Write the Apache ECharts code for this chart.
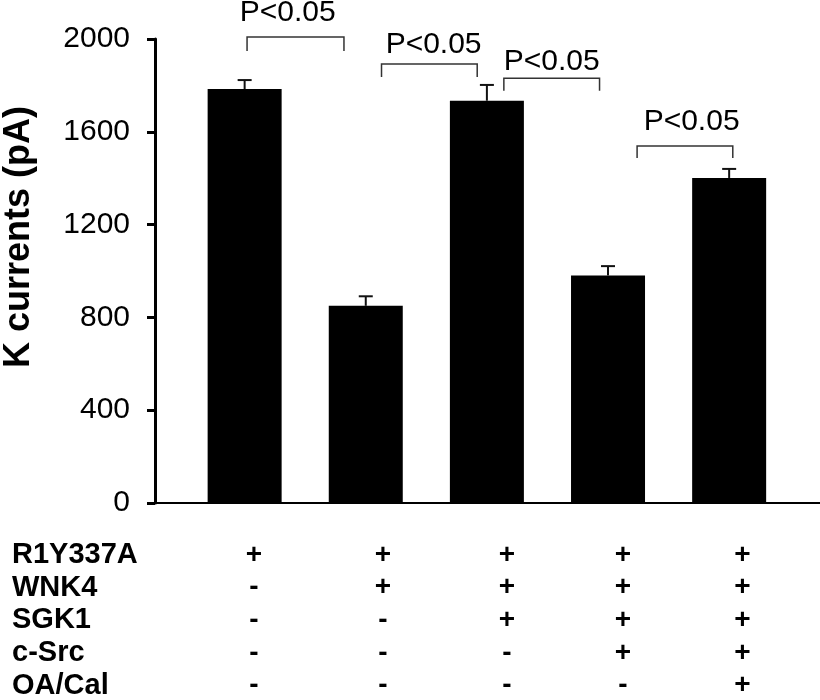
<!DOCTYPE html>
<html>
<head>
<meta charset="utf-8">
<script src="https://cdn.jsdelivr.net/npm/echarts@6/dist/echarts.min.js"></script>
<style>html,body{margin:0;padding:0;background:#fff;}#chart{width:820px;height:700px;}</style>
</head>
<body>
<div id="chart"></div>
<script>
// ---- data ----
const groups = [1, 2, 3, 4, 5];
const currents = [1784, 850, 1734, 981, 1401];
const errorTops = [1823, 891, 1802, 1021, 1440];
const yTickInterval = 400;
const yMax = 2000;
const bracketLeft = [1.02, 2.13, 3.14, 4.24];
const bracketRight = [1.82, 2.92, 3.93, 5.03];
const bracketTop = [2009, 1892, 1831, 1539];
const bracketLegBottom = [1948, 1836, 1777, 1487];
const pLabelX = [1.355, 2.56, 3.535, 4.69];
const pLabelY = [2112, 1974, 1901, 1642];
const pLabelText = ['P<0.05', 'P<0.05', 'P<0.05', 'P<0.05'];
const rowNames = ['R1Y337A', 'WNK4', 'SGK1', 'c-Src', 'OA/Cal'];
const conditions = [
  ['+', '-', '-', '-', '-'],
  ['+', '+', '-', '-', '-'],
  ['+', '+', '+', '-', '-'],
  ['+', '+', '+', '+', '-'],
  ['+', '+', '+', '+', '+']
];
const yAxisTitle = 'K currents (pA)';

// ---- layout ----
const FONT = "'Liberation Sans', Arial, sans-serif";
const colX = [1.077, 2.141, 3.166, 4.122, 5.109];
const xMin = 0.26, xMax = 5.75;

const chart = echarts.init(document.getElementById('chart'), null, {renderer: 'canvas'});

const barData = groups.map((g, i) => [g, currents[i]]);
const errData = groups.map((g, i) => [g, currents[i], errorTops[i]]);
const bracketData = bracketLeft.map((l, i) => [l, bracketRight[i], bracketTop[i], bracketLegBottom[i]]);
const pData = pLabelX.map((x, i) => [x, pLabelY[i]]);
const tableData = [], tableText = [];
groups.forEach((g, c) => {
  conditions[c].forEach((s, r) => { tableData.push([colX[c], r]); tableText.push(s); });
});

function textItem(texts, fontSize, weight) {
  return (params, api) => {
    const p = api.coord([api.value(0), api.value(1)]);
    return {type: 'text', x: p[0], y: p[1],
            style: {text: texts[params.dataIndex],
                    font: weight + ' ' + fontSize + 'px ' + FONT, fill: '#000',
                    align: 'center', verticalAlign: 'middle'}};
  };
}

chart.setOption({
  animation: false,
  backgroundColor: '#fff',
  grid: [
    {left: 155, right: 0, top: 39, bottom: 197},
    {left: 155, right: 0, top: 555, bottom: 8}
  ],
  xAxis: [
    {type: 'value', gridIndex: 0, min: xMin, max: xMax,
     axisLine: {show: true, onZero: false, lineStyle: {color: '#000', width: 2}},
     axisTick: {show: false}, axisLabel: {show: false}, splitLine: {show: false}},
    {type: 'value', gridIndex: 1, min: xMin, max: xMax, show: false}
  ],
  yAxis: [
    {type: 'value', gridIndex: 0, min: 0, max: yMax, interval: yTickInterval,
     axisLine: {show: true, lineStyle: {color: '#000', width: 3}},
     axisTick: {show: true, length: 8, lineStyle: {color: '#000', width: 3}},
     axisLabel: {fontFamily: FONT, fontSize: 30, color: '#000', margin: 25,
                 formatter: v => String(v)},
     splitLine: {show: false}},
    {type: 'value', gridIndex: 1, min: 0, max: 4, interval: 1, inverse: true,
     axisLine: {show: false}, axisTick: {show: false}, splitLine: {show: false},
     axisLabel: {fontFamily: FONT, fontSize: 29, fontWeight: 'bold', color: '#000',
                 align: 'left', margin: 143,
                 formatter: v => rowNames[v] || ''}}
  ],
  graphic: [
    {type: 'text', x: 19, y: 237, rotation: Math.PI / 2,
     style: {text: yAxisTitle, font: "bold 36px " + FONT, fill: '#000',
             align: 'center', verticalAlign: 'middle'}}
  ],
  series: [
    {type: 'bar', xAxisIndex: 0, yAxisIndex: 0, data: barData, barWidth: 74,
     itemStyle: {color: '#000'}},
    {type: 'custom', xAxisIndex: 0, yAxisIndex: 0, data: errData, clip: false,
     renderItem: (params, api) => {
       const base = api.coord([api.value(0), api.value(1)]);
       const top = api.coord([api.value(0), api.value(2)]);
       const hw = 7;
       return {type: 'group', children: [
         {type: 'line', shape: {x1: base[0], y1: base[1], x2: top[0], y2: top[1]},
          style: {stroke: '#111', lineWidth: 2}},
         {type: 'line', shape: {x1: top[0] - hw, y1: top[1], x2: top[0] + hw, y2: top[1]},
          style: {stroke: '#111', lineWidth: 2}}
       ]};
     }},
    {type: 'custom', xAxisIndex: 0, yAxisIndex: 0, data: bracketData, clip: false,
     renderItem: (params, api) => {
       const a = api.coord([api.value(0), api.value(3)]);
       const b = api.coord([api.value(0), api.value(2)]);
       const c = api.coord([api.value(1), api.value(2)]);
       const d = api.coord([api.value(1), api.value(3)]);
       return {type: 'polyline', shape: {points: [a, b, c, d]},
               style: {stroke: '#333', lineWidth: 1.5, fill: null}};
     }},
    {type: 'custom', xAxisIndex: 0, yAxisIndex: 0, data: pData, clip: false,
     renderItem: textItem(pLabelText, 30, 'normal')},
    {type: 'custom', xAxisIndex: 1, yAxisIndex: 1, data: tableData, clip: false,
     renderItem: textItem(tableText, 28, 'bold')}
  ]
});
</script>
</body>
</html>
